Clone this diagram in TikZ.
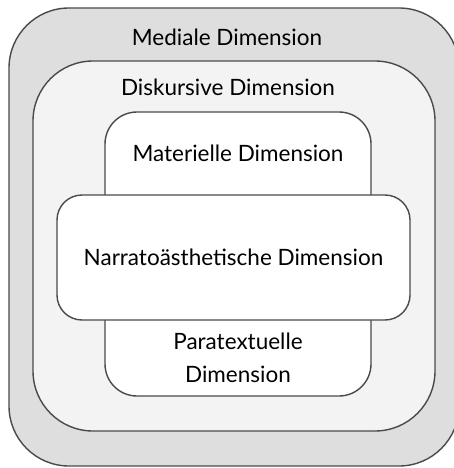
\documentclass[tikz,border=0pt]{standalone}
\usepackage{fontspec}
\setmainfont{Lato}
\usetikzlibrary{positioning}
\definecolor{mediagray}{HTML}{DEDEDE}
\definecolor{diskgray}{HTML}{F3F3F3}
\definecolor{edgegray}{HTML}{4A4A4A}
\tikzset{
  dimbox/.style={draw=edgegray, line width=1.4pt, rectangle, inner sep=0pt},
  dimtext/.style={font=\fontsize{22.5}{33}\selectfont, text=black, align=center, inner sep=0pt}
}
\begin{document}
\begin{tikzpicture}[x=1pt, y=1pt]
    \useasboundingbox (0,0) rectangle (454,-468);
    \node[dimbox, fill=mediagray, rounded corners=60pt, minimum width=450pt, minimum height=458pt] (medial) at (234,-237) {};
    \node[dimbox, fill=diskgray, rounded corners=60pt, minimum width=402pt, minimum height=370pt] (diskurs) at (234,-246) {};
    \node[dimbox, fill=white, rounded corners=32pt, minimum width=266pt, minimum height=284pt] (materiell) at (238,-254) {};
    \node[dimbox, fill=white, rounded corners=25pt, minimum width=353pt, minimum height=125pt] (narrato) at (233.5,-257.5) {};
    \node[dimtext] (medialtxt) at (227,-37) {Mediale Dimension};
    \node[dimtext] (diskurstxt) at (228,-87) {Diskursive Dimension};
    \node[dimtext] (materielltxt) at (238,-153) {Materielle Dimension};
    \node[dimtext] (narratotxt) at (narrato) {Narratoästhetische Dimension};
    \node[dimtext] (paratxt) at (238,-358) {Paratextuelle\\Dimension};
\end{tikzpicture}
\end{document}
